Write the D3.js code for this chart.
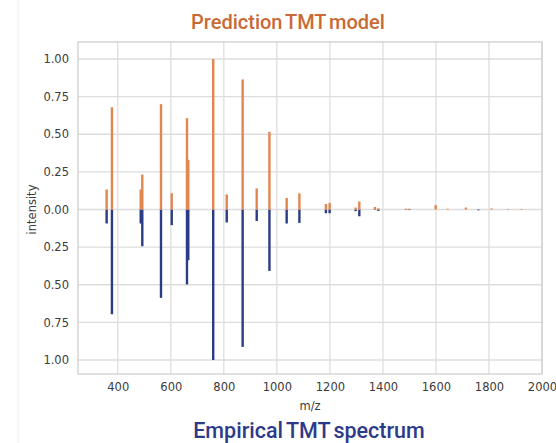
<!DOCTYPE html>
<html>
<head>
<meta charset="utf-8">
<script src="https://cdn.jsdelivr.net/npm/d3@7/dist/d3.min.js"></script>
<style>
  html, body { margin: 0; padding: 0; background: #ffffff; }
  svg { display: block; }
</style>
</head>
<body>
<svg id="chart" width="556" height="443"></svg>
<script>
// Peak positions (m/z) shared by both spectra
const mz = [358, 378, 486.5, 492.5, 563, 603.5, 661, 666, 760, 811, 871, 924, 972,
            1037, 1085, 1185, 1199, 1297, 1311, 1370, 1383, 1487, 1500, 1599, 1644,
            1713, 1760, 1810, 1873, 1923];
// Predicted relative intensities (drawn upwards)
const predicted = [0.133, 0.68, 0.133, 0.232, 0.70, 0.108, 0.607, 0.33, 1.0, 0.10, 0.864, 0.14, 0.516,
                   0.077, 0.108, 0.037, 0.044, 0.013, 0.053, 0.017, 0.008, 0.005, 0.005, 0.029, 0.005,
                   0.013, 0, 0.007, 0.004, 0.004];
// Empirical relative intensities (drawn downwards)
const empirical = [0.093, 0.696, 0.093, 0.244, 0.587, 0.104, 0.498, 0.337, 1.0, 0.086, 0.913, 0.076, 0.408,
                   0.093, 0.089, 0.025, 0.025, 0.011, 0.045, 0.003, 0.009, 0.003, 0.003, 0, 0,
                   0, 0.005, 0, 0, 0];
const xTicks = [400, 600, 800, 1000, 1200, 1400, 1600, 1800, 2000];
const yTicks = [1, 0.75, 0.5, 0.25, 0, -0.25, -0.5, -0.75, -1];

const svg = d3.select("#chart");
const plot = { left: 78, right: 542, top: 42, bottom: 374 };

const x = d3.scaleLinear().domain([250, 2000]).range([plot.left, plot.right]);
const y = d3.scaleLinear().domain([-1.093, 1.113]).range([plot.bottom, plot.top]);

// faint frame line at the left edge of the figure
svg.append("line").attr("x1", 18).attr("x2", 18).attr("y1", 0).attr("y2", 443)
  .attr("stroke", "#efefef").attr("stroke-width", 1);

// grid
const grid = svg.append("g");
grid.selectAll("line.gx").data(xTicks).join("line")
  .attr("x1", d => x(d)).attr("x2", d => x(d))
  .attr("y1", plot.top).attr("y2", plot.bottom)
  .attr("stroke", "#dddddd").attr("stroke-width", 1.3);
grid.selectAll("line.gy").data(yTicks).join("line")
  .attr("x1", plot.left).attr("x2", plot.right)
  .attr("y1", d => y(d)).attr("y2", d => y(d))
  .attr("stroke", "#dddddd").attr("stroke-width", 1.3);

// axes (labels only, no tick marks)
const fmt = d3.format(".2f");
const yAxis = d3.axisLeft(y).tickValues(yTicks).tickSize(0).tickPadding(9)
  .tickFormat(d => fmt(Math.abs(d)));
const xAxis = d3.axisBottom(x).tickValues(xTicks).tickSize(0).tickPadding(9)
  .tickFormat(d3.format("d"));

const gy = svg.append("g").attr("transform", `translate(${plot.left},0)`).call(yAxis);
const gx = svg.append("g").attr("transform", `translate(0,${plot.bottom})`).call(xAxis);
[gx, gy].forEach(g => {
  g.select(".domain").remove();
  g.selectAll("text").attr("fill", "#3b3b3b")
    .style("font-family", "DejaVu Sans, sans-serif").style("font-size", "11.5px");
});

// spectra
const peaks = mz.map((m, i) => ({ m, p: predicted[i], e: empirical[i] }));
const bars = svg.append("g");
bars.selectAll("line.emp").data(peaks.filter(d => d.e > 0)).join("line")
  .attr("class", "emp")
  .attr("x1", d => x(d.m)).attr("x2", d => x(d.m))
  .attr("y1", y(0)).attr("y2", d => y(-d.e))
  .attr("stroke", "#2b3c87").attr("stroke-width", 2.4);
bars.selectAll("line.pred").data(peaks.filter(d => d.p > 0)).join("line")
  .attr("class", "pred")
  .attr("x1", d => x(d.m)).attr("x2", d => x(d.m))
  .attr("y1", y(0)).attr("y2", d => y(d.p))
  .attr("stroke", "#e2864f").attr("stroke-width", 2.4);

// plot frame
svg.append("rect")
  .attr("x", plot.left).attr("y", plot.top)
  .attr("width", plot.right - plot.left).attr("height", plot.bottom - plot.top)
  .attr("fill", "none").attr("stroke", "#cfcfcf").attr("stroke-width", 1.3);

// axis titles
svg.append("text").attr("x", (plot.left + plot.right) / 2).attr("y", 410)
  .attr("text-anchor", "middle").attr("fill", "#3b3b3b")
  .style("font-family", "DejaVu Sans, sans-serif").style("font-size", "11.5px")
  .text("m/z");
svg.append("text").attr("transform", `translate(36,${y(0)}) rotate(-90)`)
  .attr("text-anchor", "middle").attr("fill", "#3b3b3b")
  .style("font-family", "DejaVu Sans, sans-serif").style("font-size", "11.5px")
  .text("intensity");

// headings
svg.append("text").attr("x", 288).attr("y", 29)
  .attr("text-anchor", "middle").attr("fill", "#c96a35")
  .style("font-family", "Roboto, sans-serif").style("font-weight", "500")
  .style("font-size", "20px").style("word-spacing", "-2px")
  .text("Prediction TMT model");
svg.append("text").attr("x", 309).attr("y", 438)
  .attr("text-anchor", "middle").attr("fill", "#2d3a8a")
  .style("font-family", "Roboto, sans-serif").style("font-weight", "500")
  .style("font-size", "21.5px").style("word-spacing", "-2px")
  .text("Empirical TMT spectrum");
</script>
</body>
</html>
